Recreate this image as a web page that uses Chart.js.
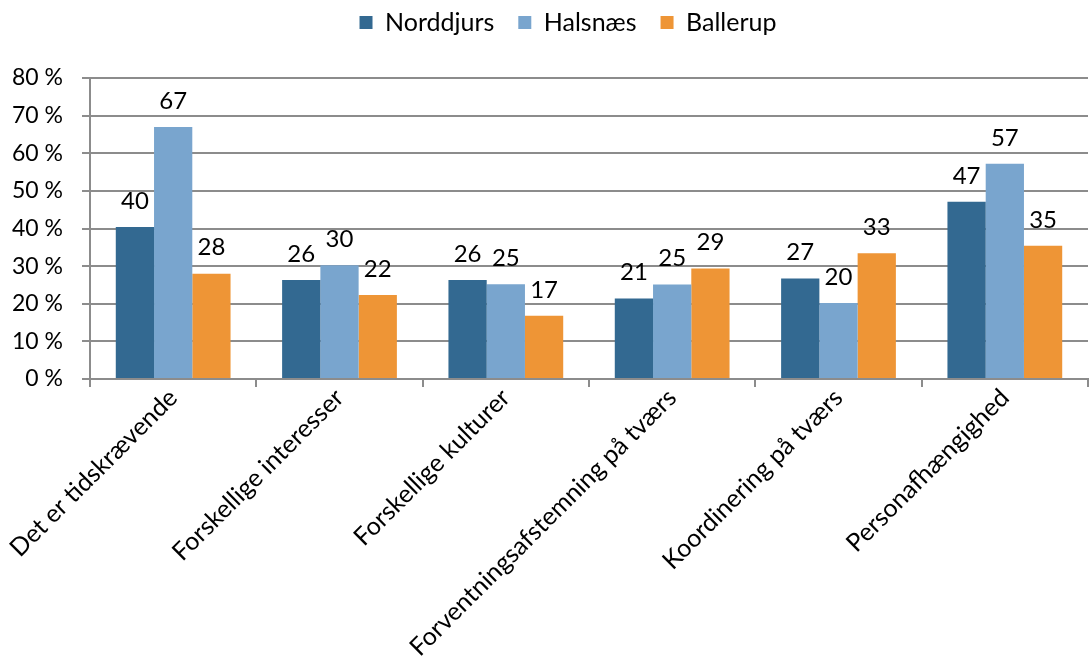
<!DOCTYPE html>
<html>
<head>
<meta charset="utf-8">
<script src="https://cdn.jsdelivr.net/npm/chart.js@4/dist/chart.umd.min.js"></script>
<style>
  html, body { margin: 0; padding: 0; background: #fff; }
  #wrap { width: 1089px; height: 671px; position: relative; }
</style>
</head>
<body>
<div id="wrap"><canvas id="chart"></canvas></div>
<script>
// ===== Data =====
const categories = [
  "Det er tidskrævende",
  "Forskellige interesser",
  "Forskellige kulturer",
  "Forventningsafstemning på tværs",
  "Koordinering på tværs",
  "Personafhængighed",
];
const norddjurs = [40.4, 26.3, 26.3, 21.4, 26.7, 47.1];
const halsnaes = [67.0, 30.2, 25.2, 25.1, 20.2, 57.2];
const ballerup = [28.0, 22.3, 16.8, 29.4, 33.4, 35.4];
const yTicks = [0, 10, 20, 30, 40, 50, 60, 70, 80];

const FONT = "Lato, 'Open Sans', sans-serif";
const gridColor = "#8c8c8c";

// value labels above each bar
const barLabels = {
  id: "barLabels",
  afterDatasetsDraw(chart) {
    const ctx = chart.ctx;
    ctx.save();
    ctx.font = "24px " + FONT;
    ctx.fillStyle = "#000";
    ctx.textAlign = "center";
    ctx.textBaseline = "middle";
    chart.data.datasets.forEach((ds, i) => {
      chart.getDatasetMeta(i).data.forEach((bar, j) => {
        ctx.fillText(Math.round(ds.data[j]), bar.x, bar.y - 26);
      });
    });
    ctx.restore();
  },
};

// extra room under the legend, and nudge it right like the original
const legendGap = {
  id: "legendGap",
  beforeLayout(chart) {
    const lg = chart.legend;
    if (!lg || lg._gapPatched) return;
    const fit = lg.fit;
    lg.fit = function () {
      fit.call(this);
      this.height += 33;
    };
    lg._gapPatched = true;
  },
  afterLayout(chart) {
    const lg = chart.legend;
    if (!lg) return;
    lg.left += 24;
    lg.right += 24;
  },
};

new Chart(document.getElementById("chart"), {
  type: "bar",
  data: {
    labels: categories,
    datasets: [
      { label: "Norddjurs", data: norddjurs, backgroundColor: "#336991" },
      { label: "Halsnæs", data: halsnaes, backgroundColor: "#79a5ce" },
      { label: "Ballerup", data: ballerup, backgroundColor: "#ee9536" },
    ],
  },
  options: {
    responsive: true,
    maintainAspectRatio: false,
    animation: false,
    layout: { padding: { top: -14, right: 1, left: 0, bottom: 0 } },
    datasets: { bar: { categoryPercentage: 0.69, barPercentage: 1 } },
    plugins: {
      legend: {
        position: "top",
        labels: {
          font: { family: FONT, size: 25 },
          color: "#000",
          boxWidth: 13,
          boxHeight: 13,
          padding: 24,
        },
      },
      tooltip: { enabled: false },
    },
    scales: {
      x: {
        grid: {
          offset: true,
          drawOnChartArea: false,
          drawTicks: true,
          tickLength: 8,
          color: gridColor,
          lineWidth: 2,
        },
        border: { color: gridColor, width: 2 },
        ticks: {
          font: { family: FONT, size: 25 },
          color: "#000",
          padding: -4,
          maxRotation: 45,
          minRotation: 45,
          autoSkip: false,
        },
        afterFit: (scale) => { scale.height = 292; },
      },
      y: {
        min: 0,
        max: 80,
        afterBuildTicks: (scale) => { scale.ticks = yTicks.map((v) => ({ value: v })); },
        grid: { color: gridColor, lineWidth: 2, tickLength: 8 },
        border: { color: gridColor, width: 2 },
        ticks: {
          font: { family: FONT, size: 23 },
          color: "#000",
          padding: 19,
          callback: (v) => v + " %",
        },
        afterFit: (scale) => { scale.width = 90; },
      },
    },
  },
  plugins: [barLabels, legendGap],
});
</script>
</body>
</html>
